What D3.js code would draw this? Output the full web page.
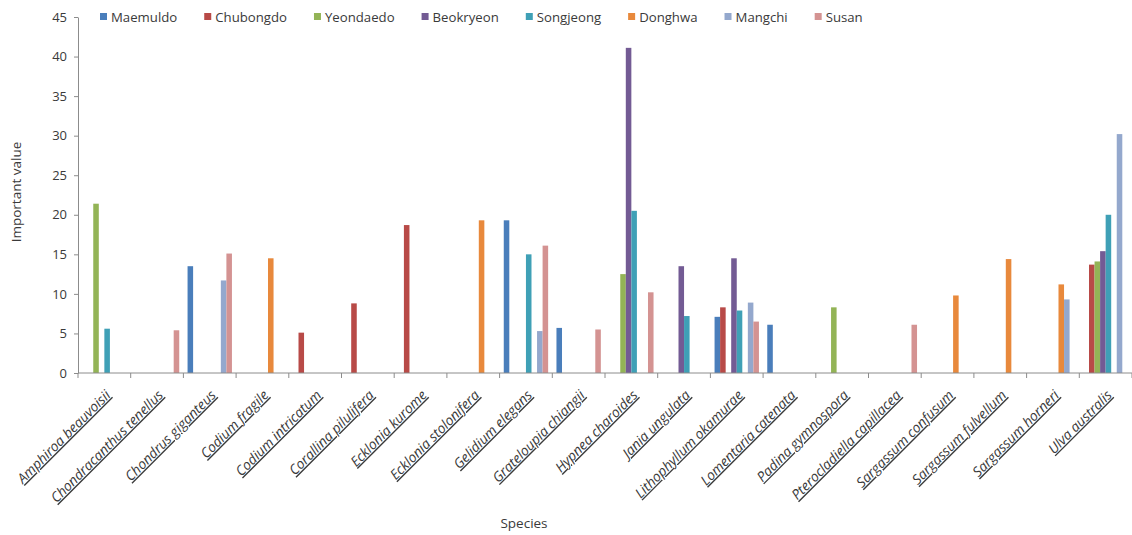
<!DOCTYPE html>
<html>
<head>
<meta charset="utf-8">
<script src="https://cdn.jsdelivr.net/npm/d3@7"></script>
<style>
  html, body { margin: 0; padding: 0; background: #fff; }
  svg { display: block; }
  text { font-family: "Open Sans", "Noto Sans", sans-serif; fill: #3a3a3a; }
</style>
</head>
<body>
<svg id="chart" width="1132" height="535"></svg>
<script>
// Species (x categories)
const species = [
  "Amphiroa beauvoisii", "Chondracanthus tenellus", "Chondrus giganteus",
  "Codium fragile", "Codium intricatum", "Corallina pilulifera",
  "Ecklonia kurome", "Ecklonia stolonifera", "Gelidium elegans",
  "Grateloupia chiangii", "Hypnea charoides", "Jania ungulata",
  "Lithophyllum okamurae", "Lomentaria catenata", "Padina gymnospora",
  "Pterocladiella capillacea", "Sargassum confusum", "Sargassum fulvellum",
  "Sargassum horneri", "Ulva australis"
];

// Sites (series)
const sites = ["Maemuldo", "Chubongdo", "Yeondaedo", "Beokryeon", "Songjeong", "Donghwa", "Mangchi", "Susan"];

// Important value per species, one array per site
const maemuldo  = [0, 0, 13.5, 0, 0, 0, 0, 0, 19.3, 5.7, 0, 0, 7.1, 6.1, 0, 0, 0, 0, 0, 0];
const chubongdo = [0, 0, 0, 0, 5.1, 8.8, 18.7, 0, 0, 0, 0, 0, 8.3, 0, 0, 0, 0, 0, 0, 13.7];
const yeondaedo = [21.4, 0, 0, 0, 0, 0, 0, 0, 0, 0, 12.5, 0, 0, 0, 8.3, 0, 0, 0, 0, 14.1];
const beokryeon = [0, 0, 0, 0, 0, 0, 0, 0, 0, 0, 41.1, 13.5, 14.5, 0, 0, 0, 0, 0, 0, 15.4];
const songjeong = [5.6, 0, 0, 0, 0, 0, 0, 0, 15.0, 0, 20.5, 7.2, 7.9, 0, 0, 0, 0, 0, 0, 20.0];
const donghwa   = [0, 0, 0, 14.5, 0, 0, 0, 19.3, 0, 0, 0, 0, 0, 0, 0, 0, 9.8, 14.4, 11.2, 0];
const mangchi   = [0, 0, 11.7, 0, 0, 0, 0, 0, 5.3, 0, 0, 0, 8.9, 0, 0, 0, 0, 0, 9.3, 30.2];
const susan     = [0, 5.4, 15.1, 0, 0, 0, 0, 0, 16.1, 5.5, 10.2, 0, 6.5, 0, 0, 6.1, 0, 0, 0, 0];

const siteValues = [maemuldo, chubongdo, yeondaedo, beokryeon, songjeong, donghwa, mangchi, susan];
const siteColors = ["#4a7ebb", "#b84a47", "#93b456", "#735b94", "#3fa0b6", "#e8893c", "#94a8cd", "#d49392"];

const yTicks = [0, 5, 10, 15, 20, 25, 30, 35, 40, 45];

const svg = d3.select("#chart");
const plotLeft = 78, plotRight = 1132, plotTop = 17, plotBottom = 373;

const x0 = d3.scaleBand().domain(species).range([plotLeft, plotRight]).paddingInner(0).paddingOuter(0);
const x1 = d3.scaleBand().domain(sites).range([0, x0.bandwidth()]).paddingInner(0).paddingOuter(0.75);
const y = d3.scaleLinear().domain([0, 45]).range([plotBottom, plotTop]);
const color = d3.scaleOrdinal().domain(sites).range(siteColors);

// Bars
const rows = [];
species.forEach((sp, i) => {
  sites.forEach((s, j) => {
    const v = siteValues[j][i];
    if (v > 0) rows.push({ sp, site: s, v });
  });
});

svg.append("g").selectAll("rect").data(rows).join("rect")
  .attr("x", d => x0(d.sp) + x1(d.site))
  .attr("y", d => y(d.v))
  .attr("width", x1.bandwidth())
  .attr("height", d => y(0) - y(d.v))
  .attr("fill", d => color(d.site));

// Y axis
const yAxis = svg.append("g")
  .attr("transform", `translate(${plotLeft},0)`)
  .call(d3.axisLeft(y).tickValues(yTicks).tickSize(4).tickPadding(7).tickSizeOuter(0));
yAxis.select(".domain").attr("stroke", "#8c8c8c");
yAxis.selectAll(".tick line").attr("stroke", "#8c8c8c");
yAxis.selectAll(".tick text").attr("font-size", 13).attr("fill", "#3a3a3a")
  .style("font-family", "'Open Sans', sans-serif");

// X axis with ticks at category boundaries
const xAxisG = svg.append("g").attr("transform", `translate(0,${plotBottom})`);
xAxisG.append("line").attr("x1", plotLeft).attr("x2", plotRight).attr("y1", 0).attr("y2", 0)
  .attr("stroke", "#8c8c8c");
xAxisG.selectAll("line.tk").data(species.concat(["__end"])).join("line")
  .attr("class", "tk")
  .attr("x1", (d, i) => i < species.length ? x0(d) : plotRight)
  .attr("x2", (d, i) => i < species.length ? x0(d) : plotRight)
  .attr("y1", 0).attr("y2", 5)
  .attr("stroke", "#8c8c8c");

// Rotated, italic, underlined species labels
xAxisG.selectAll("text.lbl").data(species).join("text")
  .attr("class", "lbl")
  .attr("transform", d => `translate(${x0(d) + x0.bandwidth() / 2 + 7},${23}) rotate(-45)`)
  .attr("text-anchor", "end")
  .attr("font-size", 13.8)
  .attr("font-style", "italic")
  .style("text-decoration", "underline")
  .attr("fill", "#333")
  .text(d => d);

// Axis titles
svg.append("text")
  .attr("transform", `translate(21,192) rotate(-90)`)
  .attr("text-anchor", "middle")
  .attr("font-size", 13.5)
  .text("Important value");

svg.append("text")
  .attr("x", 524).attr("y", 528)
  .attr("text-anchor", "middle")
  .attr("font-size", 13.5)
  .text("Species");

// Legend
const legend = svg.append("g").attr("transform", "translate(100,17)");
let lx = 0;
sites.forEach((s, j) => {
  const g = legend.append("g").attr("transform", `translate(${lx},0)`);
  g.append("rect").attr("x", 0).attr("y", -4).attr("width", 7).attr("height", 7).attr("fill", color(s));
  const t = g.append("text").attr("x", 11).attr("y", 0).attr("dy", "0.35em")
    .attr("font-size", 13.2).text(s);
  lx += 11 + t.node().getComputedTextLength() + 27;
});
</script>
</body>
</html>
